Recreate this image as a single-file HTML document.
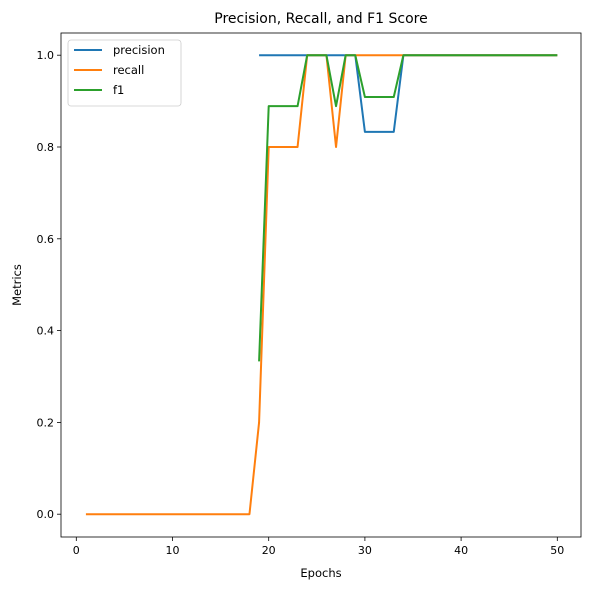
<!DOCTYPE html>
<html><head><meta charset="utf-8"><style>
body{margin:0;background:#fff;font-family:"Liberation Sans","DejaVu Sans",sans-serif}
svg text{font-family:"DejaVu Sans","Liberation Sans",sans-serif}
</style></head><body>
<svg id="chart" width="590" height="590">
<rect width="590" height="590" fill="#fff"/>
</svg>
<script>
const epochs = [];
for (let e = 1; e <= 50; e++) epochs.push(e);
const recall = [0,0,0,0,0,0,0,0,0,0,0,0,0,0,0,0,0,0,0.2,0.8,0.8,0.8,0.8,1,1,1,0.8,1,1,1,1,1,1,1,1,1,1,1,1,1,1,1,1,1,1,1,1,1,1,1];
const precisionEpochs = [19,20,21,22,23,24,25,26,27,28,29,30,31,32,33,34,35,36,37,38,39,40,41,42,43,44,45,46,47,48,49,50];
const precision = [1,1,1,1,1,1,1,1,1,1,1,0.833,0.833,0.833,0.833,1,1,1,1,1,1,1,1,1,1,1,1,1,1,1,1,1];
const f1 = [0.333,0.889,0.889,0.889,0.889,1,1,1,0.889,1,1,0.909,0.909,0.909,0.909,1,1,1,1,1,1,1,1,1,1,1,1,1,1,1,1,1];
const xTicks = [0,10,20,30,40,50];
const yTicks = [0,0.2,0.4,0.6,0.8,1.0];

const NS = "http://www.w3.org/2000/svg";
const svg = document.getElementById('chart');
const L=61,R=581,T=33,B=537;
const xs = v => 76.3 + v*9.62;
const ys = v => 514.2 - v*459;
function mk(tag, attrs, parent){const el=document.createElementNS(NS,tag);for(const k in attrs)el.setAttribute(k,attrs[k]);(parent||svg).appendChild(el);return el;}

const title = mk('text',{x:(L+R)/2,y:23,'text-anchor':'middle','font-size':14,fill:'#000'});
title.textContent='Precision, Recall, and F1 Score';



xTicks.forEach(t=>{
  const g=mk('g',{});
  
  
  mk('line',{x1:xs(t),x2:xs(t),y1:B,y2:B+4,stroke:'#000','stroke-width':0.8},g);
  const tx=mk('text',{x:xs(t),y:B+17,'text-anchor':'middle','font-size':11,fill:'#000'},g);tx.textContent=t;
});
yTicks.forEach(t=>{
  const g=mk('g',{});
  
  
  mk('line',{x1:L-4,x2:L,y1:ys(t),y2:ys(t),stroke:'#000','stroke-width':0.8},g);
  const tx=mk('text',{x:L-7,y:ys(t)+4,'text-anchor':'end','font-size':11,fill:'#000'},g);tx.textContent=t.toFixed(1);
});
const xl=mk('text',{x:(L+R)/2,y:577,'text-anchor':'middle','font-size':11.5,fill:'#000'});xl.textContent='Epochs';


const yl=mk('text',{x:21,y:(T+B)/2,'text-anchor':'middle','font-size':11.5,fill:'#000',transform:`rotate(-90 21 ${(T+B)/2})`});yl.textContent='Metrics';



function line(xv,yv,color,name){
  const p=mk('polyline',{points:xv.map((x,i)=>xs(x)+','+ys(yv[i])).join(' '),fill:'none',stroke:color,'stroke-width':2,'stroke-linejoin':'round'});
  
  
}
line(precisionEpochs,precision,'#1f77b4','precision-line');
line(epochs,recall,'#ff7f0e','recall-line');
line(epochs.slice(18),f1,'#2ca02c','f1-line');

const frame=mk('rect',{x:L,y:T,width:R-L,height:B-T,fill:'none',stroke:'#000','stroke-width':0.8});



const lg=mk('g',{});


mk('rect',{x:68,y:40,width:113,height:66,rx:3,fill:'#fff',stroke:'#ccc','stroke-width':0.8},lg);
[['precision','#1f77b4'],['recall','#ff7f0e'],['f1','#2ca02c']].forEach((d,i)=>{
  const g=mk('g',{},lg);
  
  
  const y=50+i*20;
  mk('line',{x1:74,x2:102,y1:y,y2:y,stroke:d[1],'stroke-width':2},g);
  const t=mk('text',{x:113,y:y+4,'font-size':11.5,fill:'#000'},g);t.textContent=d[0];
});
</script>
</body></html>
